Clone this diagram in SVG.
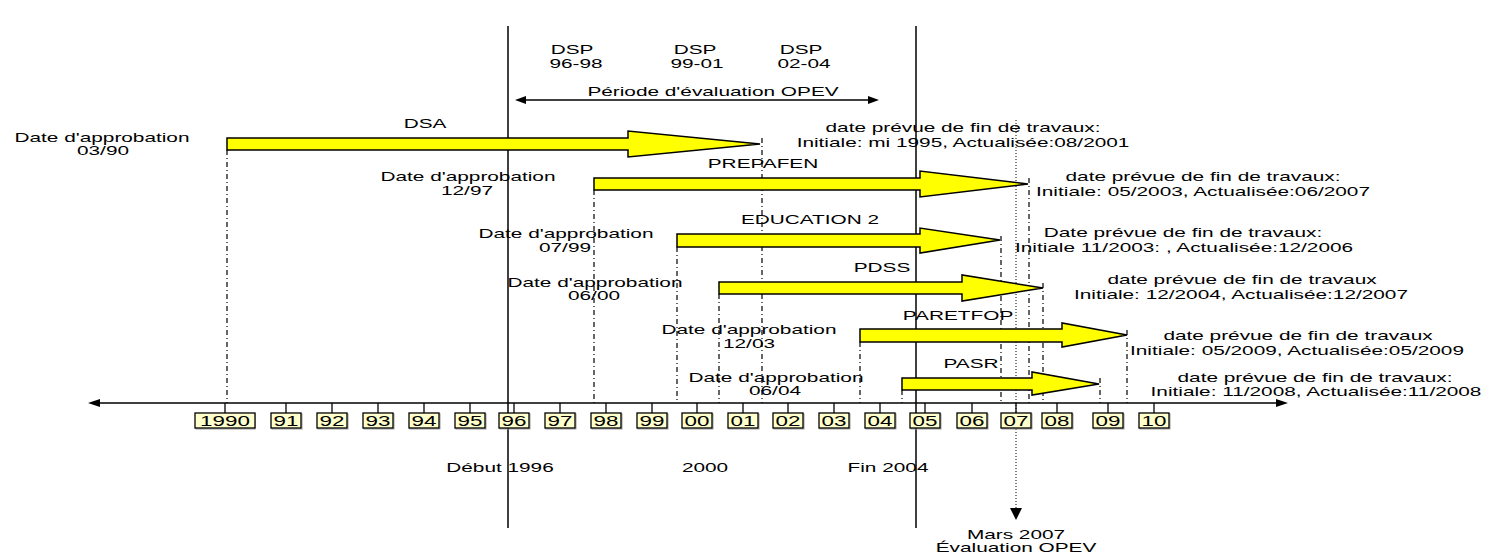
<svg xmlns="http://www.w3.org/2000/svg" width="1488" height="556" viewBox="0 0 1488 556">
<style>
.t{font-family:"Liberation Sans",Arial,sans-serif;font-size:13px;fill:#000;text-anchor:middle}
.y{font-family:"Liberation Sans",Arial,sans-serif;font-size:14px;fill:#000;text-anchor:middle}
.bar{fill:#ffff00;stroke:#000;stroke-width:1.5;stroke-linejoin:miter}
.dd{stroke:#000;stroke-width:1.2;stroke-dasharray:5 3 1 3;fill:none}
.dot{stroke:#000;stroke-width:1;stroke-dasharray:1 2;fill:none}
.sol{stroke:#000;stroke-width:1.5;fill:none}
.box{fill:#ffffcc;stroke:#000;stroke-width:1.3}
.shd{fill:none;stroke:#999;stroke-width:1}
.tk{stroke:#000;stroke-width:1.3}
</style>
<rect width="1488" height="556" fill="#fff"/>

<g id="connectors">
  <line class="sol" x1="508" y1="26" x2="508" y2="528"/>
  <line class="sol" x1="916" y1="26" x2="916" y2="528"/>
  <line class="dot" x1="1016" y1="120" x2="1016" y2="510"/>
  <polygon points="1010,508 1022,508 1016,520" fill="#000"/>
  <line class="sol" x1="522" y1="100" x2="872" y2="100" stroke-width="1.2"/>
  <polygon points="515,100 526,96 526,104" fill="#000"/>
  <polygon points="879,100 868,96 868,104" fill="#000"/>
  <line class="dd" x1="227" y1="150" x2="227" y2="403"/>
  <line class="dd" x1="762" y1="138" x2="762" y2="403"/>
  <line class="dd" x1="594" y1="190" x2="594" y2="403"/>
  <line class="dd" x1="1029" y1="178" x2="1029" y2="403"/>
  <line class="dd" x1="677" y1="247" x2="677" y2="403"/>
  <line class="dd" x1="1001" y1="236" x2="1001" y2="403"/>
  <line class="dd" x1="719" y1="294" x2="719" y2="403"/>
  <line class="dd" x1="1043" y1="283" x2="1043" y2="403"/>
  <line class="dd" x1="860" y1="342" x2="860" y2="403"/>
  <line class="dd" x1="1127" y1="330" x2="1127" y2="403"/>
  <line class="dd" x1="902" y1="390" x2="902" y2="403"/>
  <line class="dd" x1="1100" y1="378" x2="1100" y2="403"/>
  <line class="sol" x1="98" y1="403" x2="1278" y2="403" stroke-width="1.3"/>
  <polygon points="88,403 100,399 100,407" fill="#000"/>
  <polygon points="1288,403 1276,399 1276,407" fill="#000"/>
</g>

<g id="header">
  <text class="t" transform="translate(572 54) scale(1.6 1)">DSP</text>
  <text class="t" transform="translate(576 68) scale(1.6 1)">96-98</text>
  <text class="t" transform="translate(695 54) scale(1.6 1)">DSP</text>
  <text class="t" transform="translate(697 68) scale(1.6 1)">99-01</text>
  <text class="t" transform="translate(801 54) scale(1.6 1)">DSP</text>
  <text class="t" transform="translate(804 68) scale(1.6 1)">02-04</text>
  <text class="t" transform="translate(713 96) scale(1.6 1)">Période d'évaluation OPEV</text>
</g>

<g id="dsa">
  <polygon class="bar" points="227,138 628,138 628,131 760,144 628,157 628,150 227,150"/>
  <text class="t" transform="translate(425 128) scale(1.6 1)">DSA</text>
  <text class="t" transform="translate(102 142) scale(1.6 1)">Date d'approbation</text>
  <text class="t" transform="translate(103 155) scale(1.6 1)">03/90</text>
  <text class="t" transform="translate(963 132) scale(1.6 1)">date prévue de fin de travaux:</text>
  <text class="t" transform="translate(963 147) scale(1.6 1)">Initiale: mi 1995, Actualisée:08/2001</text>
</g>

<g id="prepafen">
  <polygon class="bar" points="594,178 920,178 920,171 1028,184 920,197 920,190 594,190"/>
  <text class="t" transform="translate(763 168) scale(1.6 1)">PREPAFEN</text>
  <text class="t" transform="translate(468 181) scale(1.6 1)">Date d'approbation</text>
  <text class="t" transform="translate(467 195) scale(1.6 1)">12/97</text>
  <text class="t" transform="translate(1203 181) scale(1.6 1)">date prévue de fin de travaux:</text>
  <text class="t" transform="translate(1203 196) scale(1.6 1)">Initiale: 05/2003, Actualisée:06/2007</text>
</g>

<g id="education2">
  <polygon class="bar" points="677,234 920,234 920,228 1000,240 920,253 920,247 677,247"/>
  <text class="t" transform="translate(810 224) scale(1.6 1)">EDUCATION 2</text>
  <text class="t" transform="translate(566 238) scale(1.6 1)">Date d'approbation</text>
  <text class="t" transform="translate(565 252) scale(1.6 1)">07/99</text>
  <text class="t" transform="translate(1183 237) scale(1.6 1)">Date prévue de fin de travaux:</text>
  <text class="t" transform="translate(1184 252) scale(1.6 1)">Initiale 11/2003: , Actualisée:12/2006</text>
</g>

<g id="pdss">
  <polygon class="bar" points="719,282 962,282 962,275 1043,288 962,301 962,294 719,294"/>
  <text class="t" transform="translate(882 272) scale(1.6 1)">PDSS</text>
  <text class="t" transform="translate(595 287) scale(1.6 1)">Date d'approbation</text>
  <text class="t" transform="translate(594 300) scale(1.6 1)">06/00</text>
  <text class="t" transform="translate(1242 284) scale(1.6 1)">date prévue de fin de travaux</text>
  <text class="t" transform="translate(1241 299) scale(1.6 1)">Initiale: 12/2004, Actualisée:12/2007</text>
</g>

<g id="paretfop">
  <polygon class="bar" points="860,329 1062,329 1062,323 1127,335 1062,347 1062,342 860,342"/>
  <text class="t" transform="translate(958 320) scale(1.6 1)">PARETFOP</text>
  <text class="t" transform="translate(749 334) scale(1.6 1)">Date d'approbation</text>
  <text class="t" transform="translate(749 348) scale(1.6 1)">12/03</text>
  <text class="t" transform="translate(1298 340) scale(1.6 1)">date prévue de fin de travaux</text>
  <text class="t" transform="translate(1297 355) scale(1.6 1)">Initiale: 05/2009, Actualisée:05/2009</text>
</g>

<g id="pasr">
  <polygon class="bar" points="902,378 1032,378 1032,372 1099,384 1032,395 1032,390 902,390"/>
  <text class="t" transform="translate(971 368) scale(1.6 1)">PASR</text>
  <text class="t" transform="translate(776 382) scale(1.6 1)">Date d'approbation</text>
  <text class="t" transform="translate(775 395) scale(1.6 1)">06/04</text>
  <text class="t" transform="translate(1315 382) scale(1.6 1)">date prévue de fin de travaux:</text>
  <text class="t" transform="translate(1316 396) scale(1.6 1)">Initiale: 11/2008, Actualisée:11/2008</text>
</g>

<g id="years">
  <line class="tk" x1="225" y1="403" x2="225" y2="413"/><rect class="shd" x="196" y="414" width="59" height="15"/><rect class="box" x="195" y="413" width="60" height="15"/><text class="y" transform="translate(225 425.5) scale(1.6 1)">1990</text>
  <line class="tk" x1="286" y1="403" x2="286" y2="413"/><rect class="shd" x="272" y="414" width="30" height="15"/><rect class="box" x="271" y="413" width="30" height="15"/><text class="y" transform="translate(286 425.5) scale(1.6 1)">91</text>
  <line class="tk" x1="332" y1="403" x2="332" y2="413"/><rect class="shd" x="318" y="414" width="30" height="15"/><rect class="box" x="317" y="413" width="30" height="15"/><text class="y" transform="translate(332 425.5) scale(1.6 1)">92</text>
  <line class="tk" x1="378" y1="403" x2="378" y2="413"/><rect class="shd" x="364" y="414" width="30" height="15"/><rect class="box" x="363" y="413" width="30" height="15"/><text class="y" transform="translate(378 425.5) scale(1.6 1)">93</text>
  <line class="tk" x1="424" y1="403" x2="424" y2="413"/><rect class="shd" x="410" y="414" width="30" height="15"/><rect class="box" x="409" y="413" width="30" height="15"/><text class="y" transform="translate(424 425.5) scale(1.6 1)">94</text>
  <line class="tk" x1="470" y1="403" x2="470" y2="413"/><rect class="shd" x="456" y="414" width="30" height="15"/><rect class="box" x="455" y="413" width="30" height="15"/><text class="y" transform="translate(470 425.5) scale(1.6 1)">95</text>
  <line class="tk" x1="514" y1="403" x2="514" y2="413"/><rect class="shd" x="500" y="414" width="30" height="15"/><rect class="box" x="499" y="413" width="30" height="15"/><text class="y" transform="translate(514 425.5) scale(1.6 1)">96</text>
  <line class="tk" x1="560" y1="403" x2="560" y2="413"/><rect class="shd" x="546" y="414" width="30" height="15"/><rect class="box" x="545" y="413" width="30" height="15"/><text class="y" transform="translate(560 425.5) scale(1.6 1)">97</text>
  <line class="tk" x1="606" y1="403" x2="606" y2="413"/><rect class="shd" x="592" y="414" width="30" height="15"/><rect class="box" x="591" y="413" width="30" height="15"/><text class="y" transform="translate(606 425.5) scale(1.6 1)">98</text>
  <line class="tk" x1="652" y1="403" x2="652" y2="413"/><rect class="shd" x="638" y="414" width="30" height="15"/><rect class="box" x="637" y="413" width="30" height="15"/><text class="y" transform="translate(652 425.5) scale(1.6 1)">99</text>
  <line class="tk" x1="697" y1="403" x2="697" y2="413"/><rect class="shd" x="683" y="414" width="30" height="15"/><rect class="box" x="682" y="413" width="30" height="15"/><text class="y" transform="translate(697 425.5) scale(1.6 1)">00</text>
  <line class="tk" x1="743" y1="403" x2="743" y2="413"/><rect class="shd" x="729" y="414" width="30" height="15"/><rect class="box" x="728" y="413" width="30" height="15"/><text class="y" transform="translate(743 425.5) scale(1.6 1)">01</text>
  <line class="tk" x1="788" y1="403" x2="788" y2="413"/><rect class="shd" x="774" y="414" width="30" height="15"/><rect class="box" x="773" y="413" width="30" height="15"/><text class="y" transform="translate(788 425.5) scale(1.6 1)">02</text>
  <line class="tk" x1="834" y1="403" x2="834" y2="413"/><rect class="shd" x="820" y="414" width="30" height="15"/><rect class="box" x="819" y="413" width="30" height="15"/><text class="y" transform="translate(834 425.5) scale(1.6 1)">03</text>
  <line class="tk" x1="880" y1="403" x2="880" y2="413"/><rect class="shd" x="866" y="414" width="30" height="15"/><rect class="box" x="865" y="413" width="30" height="15"/><text class="y" transform="translate(880 425.5) scale(1.6 1)">04</text>
  <line class="tk" x1="925" y1="403" x2="925" y2="413"/><rect class="shd" x="911" y="414" width="30" height="15"/><rect class="box" x="910" y="413" width="30" height="15"/><text class="y" transform="translate(925 425.5) scale(1.6 1)">05</text>
  <line class="tk" x1="972" y1="403" x2="972" y2="413"/><rect class="shd" x="958" y="414" width="30" height="15"/><rect class="box" x="957" y="413" width="30" height="15"/><text class="y" transform="translate(972 425.5) scale(1.6 1)">06</text>
  <line class="tk" x1="1016" y1="403" x2="1016" y2="413"/><rect class="shd" x="1002" y="414" width="30" height="15"/><rect class="box" x="1001" y="413" width="30" height="15"/><text class="y" transform="translate(1016 425.5) scale(1.6 1)">07</text>
  <line class="tk" x1="1057" y1="403" x2="1057" y2="413"/><rect class="shd" x="1043" y="414" width="30" height="15"/><rect class="box" x="1042" y="413" width="30" height="15"/><text class="y" transform="translate(1057 425.5) scale(1.6 1)">08</text>
  <line class="tk" x1="1108" y1="403" x2="1108" y2="413"/><rect class="shd" x="1094" y="414" width="30" height="15"/><rect class="box" x="1093" y="413" width="30" height="15"/><text class="y" transform="translate(1108 425.5) scale(1.6 1)">09</text>
  <line class="tk" x1="1154" y1="403" x2="1154" y2="413"/><rect class="shd" x="1140" y="414" width="30" height="15"/><rect class="box" x="1139" y="413" width="30" height="15"/><text class="y" transform="translate(1154 425.5) scale(1.6 1)">10</text>
</g>

<g id="footer">
  <text class="t" transform="translate(500 472) scale(1.6 1)">Début 1996</text>
  <text class="t" transform="translate(705 472) scale(1.6 1)">2000</text>
  <text class="t" transform="translate(888 472) scale(1.6 1)">Fin 2004</text>
  <text class="t" transform="translate(1016 539) scale(1.6 1)">Mars 2007</text>
  <text class="t" transform="translate(1016 552) scale(1.6 1)">Évaluation OPEV</text>
</g>
</svg>
